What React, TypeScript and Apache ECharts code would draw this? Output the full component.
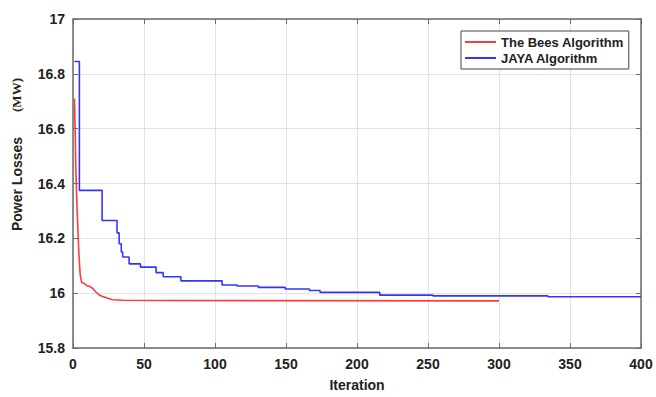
import React, { useEffect, useRef } from "react";
import * as echarts from "echarts";

const xTicks = { min: 0, max: 400, interval: 50 };
const yTicks = { min: 15.8, max: 17, interval: 0.2 };

// The Bees Algorithm [iteration, power loss MW]
const beesData: [number, number][] = [
  [1, 16.71], [1.5, 16.6], [2, 16.45], [3, 16.29], [4, 16.16], [5, 16.07],
  [6, 16.04], [8, 16.035], [10, 16.027], [12, 16.024], [14, 16.017],
  [16, 16.005], [18, 15.995], [20, 15.99], [24, 15.982], [28, 15.976],
  [35, 15.974], [60, 15.973], [300, 15.972],
];

// JAYA Algorithm (staircase) [iteration, power loss MW]
const jayaData: [number, number][] = [
  [1, 16.845], [4.5, 16.375], [20.5, 16.265], [31, 16.22], [32.5, 16.18],
  [34, 16.15], [35, 16.132], [39.5, 16.107], [47.5, 16.095], [58.5, 16.075],
  [63.5, 16.06], [76, 16.045], [105, 16.03], [115.5, 16.026], [130.5, 16.021],
  [149.5, 16.015], [166.5, 16.01], [174, 16.003], [216, 15.993], [253.5, 15.99],
  [334.5, 15.987], [400, 15.987],
];

const seriesNames = ["The Bees Algorithm", "JAYA Algorithm"];
const xName = "Iteration";
const yName = "Power Losses";
const yUnit = "(MW)";

export default function App() {
  const ref = useRef<HTMLDivElement>(null);
  useEffect(() => {
    if (!ref.current) return;
    const chart = echarts.init(ref.current, null, { renderer: "svg" });
    const axisColor = "#6a6a6a";
    const font = "Liberation Sans, Arial, sans-serif";
    chart.setOption({
      animation: false,
      backgroundColor: "#ffffff",
      grid: { left: 73, right: 15, top: 19, bottom: 46 },
      legend: {
        orient: "vertical",
        left: 461,
        top: 31,
        data: seriesNames,
        icon: "rect",
        itemWidth: 31,
        itemHeight: 2,
        itemGap: 2,
        padding: [4, 5, 4, 4],
        borderColor: "#444",
        borderWidth: 1,
        backgroundColor: "#ffffff",
        textStyle: { fontFamily: font, fontWeight: "bold", fontSize: 13, color: "#222", lineHeight: 14 },
      },
      graphic: [
        {
          type: "text",
          x: 17,
          y: 184,
          rotation: Math.PI / 2,
          style: {
            text: yName,
            font: "bold 14px " + font,
            fill: "#222",
            align: "center",
            verticalAlign: "middle",
          },
        },
        {
          type: "text",
          x: 16,
          y: 95,
          rotation: Math.PI / 2,
          style: {
            text: yUnit,
            font: "bold 13px 'Liberation Serif', 'Times New Roman', serif",
            fill: "#222",
            align: "center",
            verticalAlign: "middle",
          },
        },
      ],
      xAxis: [
        {
          type: "value",
          ...xTicks,
          name: xName,
          nameLocation: "middle",
          nameGap: 30,
          nameTextStyle: { fontFamily: font, fontWeight: "bold", fontSize: 14, color: "#222" },
          axisLine: { show: true, lineStyle: { color: axisColor, width: 1.5 } },
          axisTick: { show: true, inside: true, length: 5, lineStyle: { color: axisColor } },
          axisLabel: { fontFamily: font, fontWeight: "bold", fontSize: 14, color: "#222", margin: 9 },
          splitLine: { show: true, lineStyle: { color: "#e2e2e2", width: 1 } },
        },
        {
          type: "value",
          ...xTicks,
          position: "top",
          axisLine: { show: true, onZero: false, lineStyle: { color: axisColor, width: 1.5 } },
          axisTick: { show: true, inside: true, length: 5, lineStyle: { color: axisColor } },
          axisLabel: { show: false },
          splitLine: { show: false },
        },
      ],
      yAxis: [
        {
          type: "value",
          ...yTicks,
          axisLine: { show: true, onZero: false, lineStyle: { color: axisColor, width: 1.5 } },
          axisTick: { show: true, inside: true, length: 5, lineStyle: { color: axisColor } },
          axisLabel: {
            fontFamily: font,
            fontWeight: "bold",
            fontSize: 14,
            color: "#222",
            margin: 8,
            formatter: (v: number) => String(Math.round(v * 10) / 10),
          },
          splitLine: { show: true, lineStyle: { color: "#e2e2e2", width: 1 } },
        },
        {
          type: "value",
          ...yTicks,
          position: "right",
          axisLine: { show: true, onZero: false, lineStyle: { color: axisColor, width: 1.5 } },
          axisTick: { show: true, inside: true, length: 5, lineStyle: { color: axisColor } },
          axisLabel: { show: false },
          splitLine: { show: false },
        },
      ],
      series: [
        {
          name: seriesNames[0],
          type: "line",
          data: beesData,
          showSymbol: false,
          smooth: false,
          lineStyle: { color: "#ff3a3a", width: 1.6 },
          itemStyle: { color: "#ff3a3a" },
          z: 3,
        },
        {
          name: seriesNames[1],
          type: "line",
          data: jayaData,
          step: "end",
          showSymbol: false,
          lineStyle: { color: "#3434ff", width: 1.6 },
          itemStyle: { color: "#3434ff" },
          z: 2,
        },
      ],
    });
    return () => chart.dispose();
  }, []);
  return <div ref={ref} style={{ width: 656, height: 397, position: "absolute", left: 0, top: 0 }} />;
}
